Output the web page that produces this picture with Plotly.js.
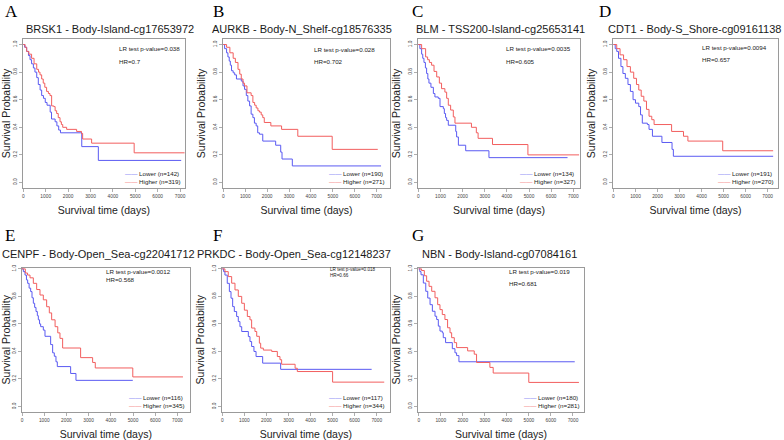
<!DOCTYPE html>
<html><head><meta charset="utf-8">
<script src="https://cdn.plot.ly/plotly-3.0.1.min.js"></script>
<style>html,body{margin:0;padding:0;background:#fff}#chart{width:784px;height:440px}</style>
</head><body><div id="chart"></div>
<script>
// ---------- data ----------
const panelLetters = ['A','B','C','D','E','F','G'];
const panelTitles = [
  'BRSK1 - Body-Island-cg17653972',
  'AURKB - Body-N_Shelf-cg18576335',
  'BLM - TSS200-Island-cg25653141',
  'CDT1 - Body-S_Shore-cg09161138',
  'CENPF - Body-Open_Sea-cg22041712',
  'PRKDC - Body-Open_Sea-cg12148237',
  'NBN - Body-Island-cg07084161'
];
const pValues = ['0.038','0.028','0.0035','0.0094','0.0012','0.018','0.019'];
const hrValues = ['0.7','0.702','0.605','0.657','0.568','0.66','0.681'];
const lowerN = [142,190,134,191,116,117,180];
const higherN = [319,271,327,270,345,344,281];
const xTickVals = [0,1000,2000,3000,4000,5000,6000,7000];
const xTickText = ['0','1000','2000','3000','4000','5000','6000','7000'];
const yTickVals = [0,0.2,0.4,0.6,0.8,1.0];
const yTickText = ['0.0','0.2','0.4','0.6','0.8','1.0'];

// A
const aLowT  = [0,60,150,230,300,370,450,520,600,670,750,820,900,980,1060,1200,1260,1420,1500,1580,1660,2610,3350,7050];
const aLowS  = [1.0,0.98,0.95,0.92,0.89,0.86,0.83,0.80,0.76,0.71,0.67,0.63,0.61,0.58,0.56,0.51,0.46,0.44,0.41,0.38,0.36,0.26,0.16,0.16];
const aHighT = [0,80,150,250,370,480,600,680,745,820,890,960,1040,1120,1190,1265,1360,1420,1490,1560,1640,1700,1760,1935,2380,2600,2650,3050,4950,7200];
const aHighS = [1.0,0.98,0.95,0.93,0.90,0.86,0.82,0.80,0.78,0.75,0.72,0.69,0.66,0.645,0.63,0.555,0.55,0.52,0.50,0.47,0.44,0.42,0.40,0.385,0.37,0.355,0.315,0.285,0.215,0.215];
// B
const bLowT  = [0,60,150,210,270,320,375,450,520,600,820,900,970,1050,1120,1200,1270,1350,1420,1500,1570,1650,1800,2390,2620,2680,3150,7200];
const bLowS  = [1.0,0.97,0.94,0.91,0.88,0.85,0.81,0.795,0.78,0.75,0.735,0.70,0.675,0.63,0.59,0.555,0.495,0.47,0.43,0.41,0.36,0.35,0.30,0.27,0.22,0.17,0.12,0.12];
const bHighT = [0,150,300,450,550,670,750,820,900,970,1080,1270,1350,1430,1500,1580,1650,1730,1800,1870,2170,2660,3400,4970,7050];
const bHighS = [1.0,0.98,0.94,0.90,0.87,0.82,0.785,0.75,0.72,0.70,0.65,0.63,0.58,0.56,0.54,0.52,0.51,0.49,0.47,0.435,0.41,0.385,0.335,0.24,0.24];
// C
const cLowT  = [0,70,150,200,255,320,375,430,480,570,680,750,900,980,1130,1175,1230,1280,1355,1690,1730,1810,2140,3190,6740];
const cLowS  = [1.0,0.97,0.93,0.90,0.87,0.83,0.79,0.75,0.72,0.69,0.645,0.62,0.61,0.55,0.535,0.50,0.47,0.45,0.415,0.37,0.33,0.27,0.23,0.18,0.18];
const cHighT = [0,150,330,420,500,600,710,830,950,1050,1200,1280,1355,1460,1580,1655,2400,2620,2700,3350,4950,7260];
const cHighS = [1.0,0.97,0.91,0.89,0.87,0.85,0.805,0.765,0.72,0.68,0.655,0.61,0.56,0.525,0.475,0.43,0.40,0.36,0.32,0.275,0.20,0.20];
// D
const dLowT  = [0,80,150,230,340,430,540,660,770,890,1000,1150,1230,1310,1540,1615,1770,2200,2660,2720,7250];
const dLowS  = [1.0,0.97,0.95,0.90,0.84,0.79,0.755,0.71,0.66,0.60,0.575,0.55,0.49,0.43,0.42,0.385,0.335,0.29,0.24,0.19,0.19];
const dHighT = [0,150,300,460,615,770,920,1045,1150,1260,1380,1500,1615,1740,1845,2640,3180,3380,4960,7250];
const dHighS = [1.0,0.97,0.925,0.89,0.84,0.80,0.755,0.71,0.67,0.625,0.59,0.53,0.48,0.455,0.42,0.37,0.335,0.30,0.23,0.23];
// E
const eLowT  = [0,60,135,200,255,320,390,450,510,570,630,690,735,790,840,960,1035,1290,1380,1455,1530,1590,2190,2430,4990];
const eLowS  = [1.0,0.98,0.955,0.92,0.895,0.86,0.835,0.79,0.75,0.72,0.69,0.66,0.63,0.60,0.58,0.555,0.51,0.45,0.39,0.365,0.325,0.29,0.24,0.19,0.19];
const eHighT = [0,150,250,360,510,660,810,960,1110,1230,1335,1490,1610,1710,1830,2640,3180,3300,4990,7250];
const eHighS = [1.0,0.97,0.955,0.935,0.895,0.85,0.81,0.775,0.725,0.68,0.63,0.58,0.535,0.495,0.425,0.355,0.32,0.28,0.215,0.215];
// F
const fLowT  = [0,60,120,225,320,395,470,545,650,725,800,880,1180,1255,1330,1435,1530,1830,2645,6770];
const fLowS  = [1.0,0.98,0.955,0.895,0.835,0.787,0.726,0.69,0.654,0.617,0.58,0.545,0.508,0.472,0.436,0.40,0.363,0.315,0.27,0.27];
const fHighT = [0,120,270,425,575,725,880,1000,1135,1255,1330,1480,1560,1680,1740,1860,2240,2495,2615,2690,3300,3400,5000,7340];
const fHighS = [1.0,0.98,0.944,0.896,0.847,0.80,0.75,0.70,0.654,0.63,0.57,0.545,0.51,0.46,0.424,0.41,0.40,0.363,0.34,0.307,0.278,0.254,0.177,0.177];
// G
const gLowT  = [0,50,105,210,320,410,515,620,740,815,890,965,1070,1115,1220,1525,1645,1720,1825,7080];
const gLowS  = [1.0,0.98,0.957,0.897,0.837,0.788,0.74,0.692,0.656,0.632,0.584,0.548,0.536,0.50,0.464,0.42,0.39,0.37,0.325,0.325];
const gHighT = [0,130,255,360,470,590,740,860,965,1070,1190,1310,1420,1495,1615,1720,2220,2520,2625,3230,3380,4995,7270];
const gHighS = [1.0,0.988,0.95,0.91,0.873,0.837,0.79,0.74,0.704,0.668,0.632,0.572,0.536,0.50,0.464,0.428,0.404,0.38,0.32,0.284,0.243,0.175,0.175];

const lowerTimes  = [aLowT,bLowT,cLowT,dLowT,eLowT,fLowT,gLowT];
const lowerSurv   = [aLowS,bLowS,cLowS,dLowS,eLowS,fLowS,gLowS];
const higherTimes = [aHighT,bHighT,cHighT,dHighT,eHighT,fHighT,gHighT];
const higherSurv  = [aHighS,bHighS,cHighS,dHighS,eHighS,fHighS,gHighS];

// ---------- layout (pixel geometry of each panel) ----------
const W = 784, H = 440;
const frames = [[22.7,185,39,188],[223,390,39,188],[418,580,39,188],[613,778,39,188],
                [21.7,190,267.5,412],[221.7,390,267.5,412],[418,584,267.5,412]];
const xRanges = [[-27,7220],[-14,7608],[-14,7302],[-20,7470],[-14,7567],[-27,7602],[-32,7500]];
const titlePos = [[110,29],[302,29],[500,29],[694,29],[98,254],[294,254],[499,254]];
const letterPos = [[3,11],[211,11],[410,11],[597,11],[3,235],[211,235],[410,235]];
const statPos = [[0.58,0.933,0.852],[0.53,0.93,0.848],[0.533,0.933,0.852],[0.53,0.94,0.86],
                 [0.49,0.971,0.918],[0.633,0.983,0.948],[0.538,0.971,0.89]];
const statSize = [6.2,6.2,6.2,6.2,6.2,4.6,6.2];
const BLUE = '#5a5af2', RED = '#f25e5e';

const data = [];
const layout = {
  width: W, height: H, margin: {l:0,r:0,t:0,b:0},
  paper_bgcolor: '#ffffff', plot_bgcolor: '#ffffff', showlegend: false,
  font: {family: 'Liberation Sans, Arial, sans-serif', color: '#222'},
  annotations: []
};

frames.forEach((f, i) => {
  const n = i === 0 ? '' : String(i + 1);
  const top = i < 4;
  layout['xaxis' + n] = {
    domain: [f[0] / W, f[1] / W], anchor: 'y' + n, range: xRanges[i],
    tickvals: xTickVals, ticktext: xTickText,
    showline: true, mirror: true, linecolor: '#9a9a9a', linewidth: 1,
    ticks: 'outside', ticklen: 3, tickwidth: 0.8, tickcolor: '#9a9a9a',
    tickfont: {size: 4.8, color: '#444'},
    showgrid: false, zeroline: false, fixedrange: true,
    title: {text: 'Survival time (days)', font: {size: 10.5, color: '#222'}, standoff: 8}
  };
  layout['yaxis' + n] = {
    domain: [1 - f[3] / H, 1 - f[2] / H], anchor: 'x' + n,
    range: top ? [-0.04, 1.04] : [-0.04, 1.01],
    tickvals: yTickVals, ticktext: yTickText, tickangle: -90,
    showline: true, mirror: true, linecolor: '#9a9a9a', linewidth: 1,
    ticks: 'outside', ticklen: 3, tickwidth: 0.8, tickcolor: '#9a9a9a',
    tickfont: {size: 4.8, color: '#444'},
    showgrid: false, zeroline: false, fixedrange: true,
    title: {text: 'Survival Probability', font: {size: 10.5, color: '#222'}, standoff: 5}
  };
  data.push({type:'scatter', mode:'lines', x: lowerTimes[i], y: lowerSurv[i],
    xaxis:'x'+n, yaxis:'y'+n, line:{color:BLUE, width:1, shape:'hv'},
    name:'Lower (n=' + lowerN[i] + ')', hoverinfo:'skip'});
  data.push({type:'scatter', mode:'lines', x: higherTimes[i], y: higherSurv[i],
    xaxis:'x'+n, yaxis:'y'+n, line:{color:RED, width:1, shape:'hv'},
    name:'Higher (n=' + higherN[i] + ')', hoverinfo:'skip'});

  // panel title
  layout.annotations.push({xref:'paper', yref:'paper', x: titlePos[i][0] / W, y: 1 - titlePos[i][1] / H,
    xanchor:'center', yanchor:'middle', showarrow:false, text: panelTitles[i],
    font:{size:11, color:'#1a1a1a'}});
  // panel letter
  layout.annotations.push({xref:'paper', yref:'paper', x: letterPos[i][0] / W, y: 1 - letterPos[i][1] / H,
    xanchor:'left', yanchor:'middle', showarrow:false, text: panelLetters[i],
    font:{size:17, color:'#000', family:'Liberation Serif, Times New Roman, serif'}});
  // statistics
  const sp = statPos[i];
  layout.annotations.push({xref:'x'+n+' domain', yref:'y'+n+' domain', x: sp[0], y: sp[1],
    xanchor:'left', yanchor:'middle', showarrow:false, text:'LR test p-value=' + pValues[i],
    font:{size:statSize[i], color:'#222'}});
  layout.annotations.push({xref:'x'+n+' domain', yref:'y'+n+' domain', x: sp[0], y: sp[2],
    xanchor:'left', yanchor:'middle', showarrow:false, text:'HR=' + hrValues[i],
    font:{size:statSize[i], color:'#222'}});
  // legend (R style, no box)
  layout.annotations.push({xref:'x'+n+' domain', yref:'y'+n+' domain', x: 0.985, y: 0.01,
    xanchor:'right', yanchor:'bottom', align:'left', showarrow:false,
    text:'<span style="color:' + BLUE + '">——</span> Lower (n=' + lowerN[i] + ')<br>' +
         '<span style="color:' + RED + '">——</span> Higher (n=' + higherN[i] + ')',
    font:{size:6.2, color:'#222'}});
});

Plotly.newPlot('chart', data, layout, {staticPlot:true, displayModeBar:false});
</script></body></html>
